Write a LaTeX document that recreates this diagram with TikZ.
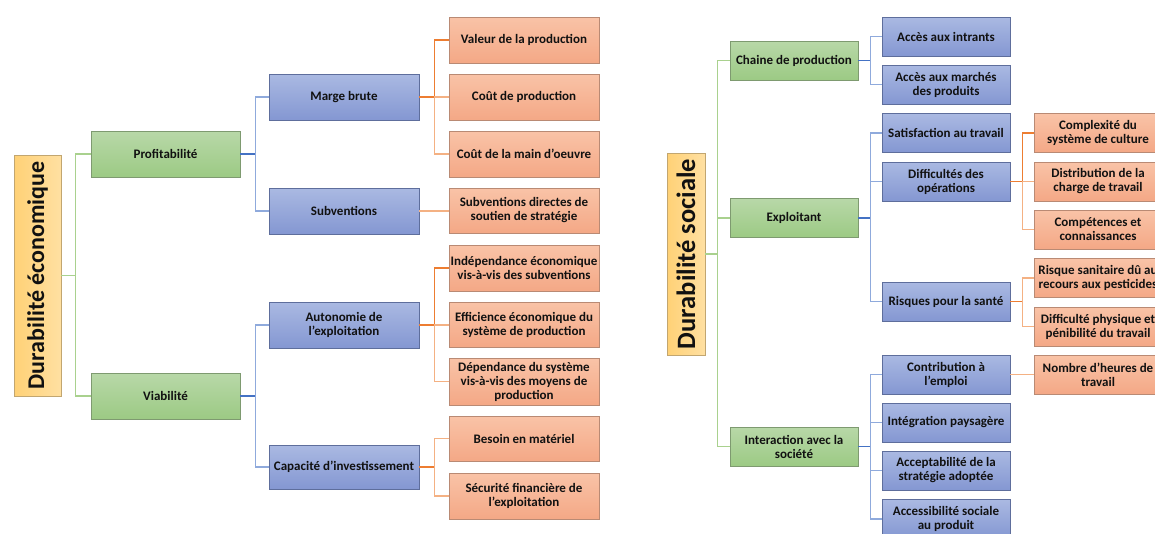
\documentclass[tikz,border=0pt]{standalone}
\usepackage{fontspec}
\setmainfont{Carlito}
\definecolor{txt}{HTML}{111111}
\definecolor{gtop}{HTML}{B8D8A8}
\definecolor{gbot}{HTML}{9CCA84}
\definecolor{gdraw}{HTML}{7E9A70}
\definecolor{btop}{HTML}{AAB9E2}
\definecolor{bbot}{HTML}{8497D2}
\definecolor{bdraw}{HTML}{5E6E9C}
\definecolor{otop}{HTML}{F9C3A7}
\definecolor{obot}{HTML}{F4A886}
\definecolor{odraw}{HTML}{B98A74}
\definecolor{rtop}{HTML}{FFE0A2}
\definecolor{rbot}{HTML}{FFD176}
\definecolor{rdraw}{HTML}{C2A670}
\definecolor{gl1}{HTML}{70AD47}
\definecolor{gl2}{HTML}{A9D18E}
\definecolor{bl1}{HTML}{4472C4}
\definecolor{bl2}{HTML}{8FAADC}
\definecolor{ol1}{HTML}{ED7D31}
\definecolor{ol2}{HTML}{F4B183}
\tikzset{
  base/.style={rectangle, font=\bfseries\fontsize{13}{14}\selectfont, text=txt, align=center, inner sep=0.5pt, line width=0.8pt},
  gbox/.style={base, draw=gdraw, top color=gtop, bottom color=gbot},
  bbox/.style={base, draw=bdraw, top color=btop, bottom color=bbot},
  obox/.style={base, draw=odraw, top color=otop, bottom color=obot},
  rootbox/.style={base, rotate=90, draw=rdraw, left color=rbot, right color=rtop},
  wL1/.style={minimum width=149pt, minimum height=46pt},
  wL/.style={minimum width=150pt, minimum height=46pt},
  wS/.style={minimum width=128pt, minimum height=39pt},
  gstem/.style={draw=gl2, line width=1.3pt},
  gbr/.style={draw=gl2, line width=1.3pt},
  bstem/.style={draw=bl1, line width=1.5pt},
  bbr/.style={draw=bl2, line width=1.3pt},
  ostem/.style={draw=ol1, line width=1.5pt},
  obr/.style={draw=ol2, line width=1.3pt},
}
\begin{document}
\begin{tikzpicture}[x=1pt,y=-1pt]
\useasboundingbox (0,0) rectangle (1155,533);
\clip (0,0) rectangle (1155,533);
\fill[white] (0,0) rectangle (1155,533);

% ---------------- Left tree ----------------
\node[rootbox, minimum width=241pt, minimum height=47pt, font=\bfseries\fontsize{24}{26}\selectfont] (eco) at (37.5,275.5) {Durabilité économique};

\node[gbox, wL1] (prof) at (165.5,154) {Profitabilité};
\node[gbox, wL1] (via) at (165.5,396) {Viabilité};

\node[bbox, wL] (mb) at (344,97) {Marge brute};
\node[bbox, wL] (sub) at (344,211) {Subventions};
\node[bbox, wL] (auto) at (344,325) {Autonomie de\\l'exploitation};
\node[bbox, wL, minimum height=44pt] (cap) at (344,467) {Capacité d'investissement};

\node[obox, wL] (val) at (524,40) {Valeur de la production};
\node[obox, wL] (cprod) at (524,97) {Coût de production};
\node[obox, wL] (cmain) at (524,154) {Coût de la main d'oeuvre};
\node[obox, wL, minimum height=45pt] (sdir) at (524,210.5) {Subventions directes de\\soutien de stratégie};
\node[obox, wL] (indep) at (524,268) {Indépendance économique\\vis-à-vis des subventions};
\node[obox, wL, minimum height=45pt] (eff) at (524,324.5) {Efficience économique du\\système de production};
\node[obox, wL, minimum height=47pt] (dep) at (524,381.5) {Dépendance du système\\vis-à-vis des moyens de\\production};
\node[obox, wL, minimum height=45pt] (bes) at (524,438.5) {Besoin en matériel};
\node[obox, wL] (sec) at (524,496) {Sécurité financière de\\l'exploitation};

% connectors left
\draw[gstem] (eco.south) -- ++(15,0);
\draw[gbr] (prof.west) -- ++(-15,0) |- (via.west);

\draw[bstem] (prof.east) -- ++(15,0) coordinate (jp);
\draw[bbr] (jp) |- (mb.west);
\draw[bbr] (jp) |- (sub.west);
\draw[bstem] (via.east) -- ++(15,0) coordinate (jv);
\draw[bbr] (jv) |- (auto.west);
\draw[bbr] (jv) |- (cap.west);

\draw[ostem] (mb.east) -- ++(15,0) coordinate (jmb);
\draw[ostem] (jmb) |- (val.west);
\draw[obr] (jmb) -- (cprod.west);
\draw[obr] (jmb) |- (cmain.west);
\draw[obr] (sub.east) -- (sub.east -| sdir.west);
\draw[ostem] (auto.east) -- ++(15,0) coordinate (jau);
\draw[ostem] (jau) |- (indep.west);
\draw[obr] (jau) -- (jau -| eff.west);
\draw[obr] (jau) |- (dep.west);
\draw[ostem] (cap.east) -- ++(15,0) coordinate (jca);
\draw[obr] (jca) |- (bes.west);
\draw[obr] (jca) |- (sec.west);

% ---------------- Right tree ----------------
\node[rootbox, minimum width=202pt, minimum height=38pt, font=\bfseries\fontsize{26.5}{28}\selectfont] (soc) at (686,254) {Durabilité sociale};

\node[gbox, wS] (chaine) at (794,60.5) {Chaine de production};
\node[gbox, wS] (expl) at (794,218) {Exploitant};
\node[gbox, wS] (inter) at (794,446.5) {Interaction avec la\\société};

\node[bbox, wS] (intr) at (946,36.5) {Accès aux intrants};
\node[bbox, wS] (march) at (946,84.5) {Accès aux marchés\\des produits};
\node[bbox, wS] (satis) at (946,133) {Satisfaction au travail};
\node[bbox, wS] (diff) at (946,181.5) {Difficultés des\\opérations};
\node[bbox, wS] (risq) at (946,301.5) {Risques pour la santé};
\node[bbox, wS] (contr) at (946,374.5) {Contribution à\\l'emploi};
\node[bbox, wS] (integ) at (946,422.5) {Intégration paysagère};
\node[bbox, wS] (accept) at (946,470.5) {Acceptabilité de la\\stratégie adoptée};
\node[bbox, wS] (access) at (946,519) {Accessibilité sociale\\au produit};

\node[obox, wS] (compl) at (1098,133) {Complexité du\\système de culture};
\node[obox, wS] (distr) at (1098,181.5) {Distribution de la\\charge de travail};
\node[obox, wS] (compet) at (1098,229.5) {Compétences et\\connaissances};
\node[obox, wS] (rsan) at (1098,278) {Risque sanitaire dû au\\recours aux pesticides};
\node[obox, wS] (dphys) at (1098,326.5) {Difficulté physique et\\pénibilité du travail};
\node[obox, wS] (nbh) at (1098,374.5) {Nombre d'heures de\\travail};

% connectors right
\draw[gstem] (soc.south) -- ++(13,0);
\draw[gbr] (chaine.west) -- ++(-12,0) |- (inter.west);
\draw[gbr] (chaine.west) ++(-12,0) |- (expl.west);

\draw[bstem] (chaine.east) -- ++(12,0) coordinate (jch);
\draw[bbr] (jch) |- (intr.west);
\draw[bbr] (jch) |- (march.west);
\draw[bstem] (expl.east) -- ++(12,0) coordinate (jex);
\draw[bbr] (jex) |- (satis.west);
\draw[bbr] (jex) |- (diff.west);
\draw[bbr] (jex) |- (risq.west);
\draw[bstem] (inter.east) -- ++(12,0) coordinate (jin);
\draw[bbr] (jin) |- (contr.west);
\draw[bbr] (jin) |- (integ.west);
\draw[bbr] (jin) |- (accept.west);
\draw[bbr] (jin) |- (access.west);

\draw[ostem] (diff.east) -- ++(12,0) coordinate (jdi);
\draw[ostem] (jdi) |- (compl.west);
\draw[obr] (jdi) -- (distr.west);
\draw[obr] (jdi) |- (compet.west);
\draw[ostem] (risq.east) -- ++(12,0) coordinate (jri);
\draw[obr] (jri) |- (rsan.west);
\draw[obr] (jri) |- (dphys.west);
\draw[obr] (contr.east) -- (nbh.west);
\end{tikzpicture}
\end{document}
